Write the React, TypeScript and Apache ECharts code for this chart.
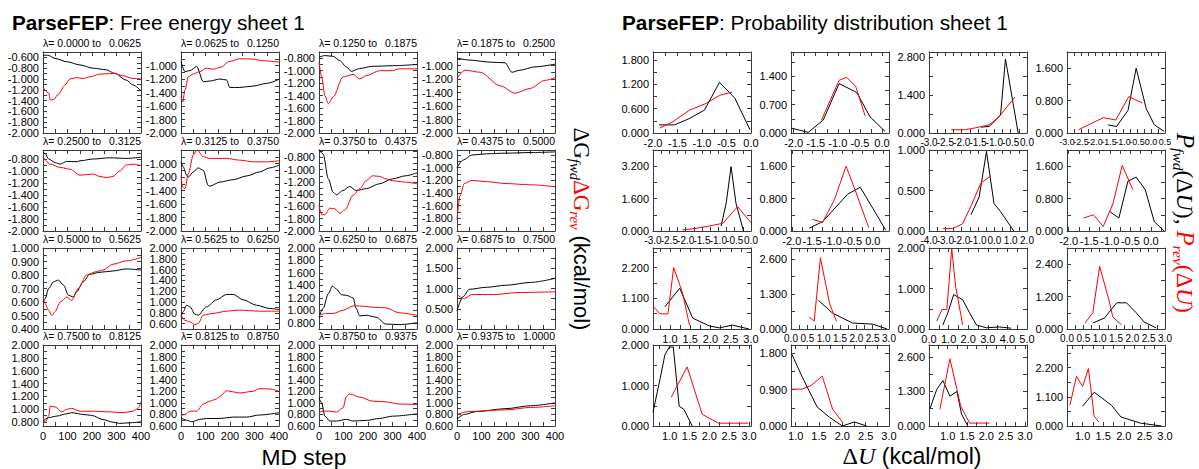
import React, { useEffect, useRef } from "react";
import * as echarts from "echarts";

// ---------- Free energy sheet (left) ----------
const lambdaFrom = ["0.0000","0.0625","0.1250","0.1875","0.2500","0.3125","0.3750","0.4375","0.5000","0.5625","0.6250","0.6875","0.7500","0.8125","0.8750","0.9375"];
const lambdaTo = ["0.0625","0.1250","0.1875","0.2500","0.3125","0.3750","0.4375","0.5000","0.5625","0.6250","0.6875","0.7500","0.8125","0.8750","0.9375","1.0000"];

const mdStepMin = 0;
const mdStepMax = 400;
const mdStepLabelStep = 100;

const feYMin = [-2, -2, -2, -2, -2, -2, -2, -2, 0.4, 0.5, 0.7, 0, 0.74, 0.6, 0.6, 0.6];
const feYMax = [-0.5, -0.8, -0.7, -0.8, -0.65, -0.8, -0.68, -0.72, 1.0, 2.0, 2.0, 2.0, 2.0, 2.0, 2.0, 2.0];
const feYTopLabel = [-0.6, -1.0, -0.8, -1.0, -0.8, -1.0, -0.8, -0.8, 1.0, 2.0, 2.0, 2.0, 2.0, 2.0, 2.0, 2.0];
const feYStep = [0.2, 0.2, 0.2, 0.2, 0.2, 0.2, 0.2, 0.2, 0.1, 0.2, 0.2, 0.5, 0.2, 0.2, 0.2, 0.2];

const feFwd: number[][][] = [
  [[0,-0.56],[20,-0.56],[50,-0.62],[97,-0.68],[151,-0.74],[205,-0.8],[259,-0.83],[292,-0.895],[340,-1.02],[367,-1.11],[400,-1.22]],
  [[0,-0.94],[16,-1.09],[37,-1.075],[64,-1.015],[91,-1.24],[118,-1.23],[159,-1.2],[186,-1.215],[199,-1.325],[240,-1.325],[294,-1.305],[349,-1.265],[400,-1.205]],
  [[0,-0.784],[24,-0.757],[58,-0.77],[85,-0.84],[112,-0.94],[132,-1.01],[166,-0.965],[219,-0.93],[300,-0.92],[400,-0.9]],
  [[0,-0.89],[53,-0.92],[135,-0.95],[196,-0.96],[224,-1.1],[257,-1.07],[318,-1.02],[400,-0.98]],
  [[0,-0.686],[9,-0.71],[23,-0.8],[50,-0.86],[70,-0.885],[97,-0.84],[137,-0.845],[151,-0.83],[205,-0.8],[272,-0.78],[340,-0.79],[400,-0.77]],
  [[0,-0.975],[9,-1.05],[23,-1.175],[30,-1.2],[50,-1.125],[70,-1.065],[91,-1.1],[111,-1.325],[118,-1.335],[159,-1.275],[213,-1.24],[267,-1.185],[321,-1.125],[362,-1.065],[400,-1.025]],
  [[0,-0.675],[17,-0.746],[38,-1.15],[58,-1.37],[71,-1.41],[98,-1.34],[125,-1.275],[152,-1.34],[193,-1.31],[247,-1.23],[300,-1.15],[354,-1.1],[400,-1.05]],
  [[0,-1.0],[25,-0.88],[60,-0.8],[120,-0.78],[200,-0.77],[300,-0.76],[400,-0.75]],
  [[0,0.6],[9,0.625],[23,0.7],[43,0.75],[63,0.762],[84,0.725],[104,0.65],[124,0.637],[137,0.675],[164,0.75],[191,0.805],[232,0.82],[286,0.83],[340,0.845],[400,0.837]],
  [[0,0.725],[9,0.82],[23,0.94],[37,0.91],[57,0.775],[70,0.756],[104,0.91],[145,1.04],[186,1.14],[213,1.14],[254,1.04],[308,0.94],[362,0.88],[400,0.86]],
  [[0,0.89],[17,1.03],[38,1.27],[55,1.39],[71,1.34],[92,1.25],[112,1.24],[139,1.2],[152,1.03],[166,0.91],[193,0.92],[233,0.89],[273,0.78],[327,0.77],[400,0.8]],
  [[0,0.45],[25,0.8],[50,0.98],[120,1.03],[200,1.08],[300,1.15],[400,1.25]],
  [[0,0.816],[23,0.87],[57,0.895],[97,0.93],[117,0.947],[164,0.92],[198,0.905],[245,0.84],[286,0.8],[313,0.78],[353,0.79],[400,0.805]],
  [[0,0.74],[23,0.7],[44,0.674],[77,0.714],[104,0.73],[159,0.73],[213,0.754],[267,0.754],[321,0.79],[400,0.83]],
  [[0,1.086],[11,1.0],[24,0.77],[44,0.686],[71,0.686],[112,0.714],[139,0.686],[193,0.697],[247,0.73],[300,0.77],[400,0.81]],
  [[0,0.72],[30,0.8],[80,0.85],[200,0.9],[300,0.95],[400,1.0]],
];

const feRev: number[][][] = [
  [[0,-1.16],[23,-1.26],[30,-1.39],[43,-1.38],[63,-1.28],[90,-1.11],[110,-1.0],[137,-0.975],[164,-0.99],[191,-0.96],[232,-0.91],[272,-0.9],[292,-0.895],[326,-0.94],[367,-0.99],[400,-1.0]],
  [[0,-1.465],[7,-1.54],[16,-1.365],[30,-1.165],[50,-1.125],[77,-1.09],[104,-1.04],[132,-1.055],[159,-1.03],[199,-0.94],[240,-0.9],[294,-0.905],[335,-0.93],[400,-0.95]],
  [[0,-0.86],[11,-1.1],[24,-1.4],[38,-1.53],[58,-1.42],[98,-1.1],[139,-1.06],[166,-1.13],[193,-1.08],[247,-1.0],[300,-1.0],[327,-0.97],[400,-0.97]],
  [[0,-1.19],[33,-1.07],[94,-1.1],[176,-1.3],[237,-1.41],[298,-1.34],[359,-1.22],[400,-1.18]],
  [[0,-0.77],[30,-0.886],[70,-0.94],[110,-0.97],[151,-1.07],[178,-1.06],[205,-1.05],[232,-1.09],[259,-1.11],[286,-1.09],[313,-1.0],[340,-0.9],[367,-0.886],[400,-0.91]],
  [[0,-1.175],[7,-1.35],[16,-1.375],[30,-1.15],[50,-0.875],[66,-0.8],[91,-0.9],[118,-0.925],[186,-0.925],[240,-0.95],[294,-0.975],[349,-0.975],[400,-0.96]],
  [[0,-1.58],[11,-1.735],[24,-1.735],[44,-1.627],[65,-1.64],[85,-1.71],[105,-1.66],[139,-1.42],[166,-1.31],[193,-1.18],[219,-1.1],[247,-1.11],[273,-1.15],[300,-1.18],[341,-1.2],[400,-1.23]],
  [[0,-1.82],[12,-1.45],[30,-1.25],[60,-1.2],[120,-1.22],[200,-1.25],[300,-1.27],[400,-1.3]],
  [[0,0.637],[9,0.587],[23,0.537],[36,0.5],[50,0.53],[70,0.6],[97,0.637],[117,0.612],[144,0.7],[178,0.8],[218,0.825],[245,0.837],[286,0.88],[340,0.905],[400,0.93]],
  [[0,0.756],[16,0.66],[37,0.63],[57,0.58],[70,0.6],[91,0.756],[132,0.79],[186,0.83],[240,0.85],[321,0.83],[400,0.83]],
  [[0,0.92],[31,0.95],[58,0.95],[98,1.0],[139,1.07],[166,1.07],[219,1.05],[273,1.04],[327,0.96],[400,0.92]],
  [[0,0.85],[30,0.75],[60,0.85],[150,0.85],[250,0.9],[400,0.92]],
  [[0,0.83],[9,0.8],[23,0.895],[30,1.05],[50,1.035],[77,0.96],[97,1.0],[117,1.015],[151,0.97],[205,0.97],[272,0.96],[326,0.947],[367,0.97],[387,1.01],[400,1.115]],
  [[0,0.78],[16,0.8],[37,0.857],[64,0.857],[91,0.98],[118,1.03],[139,1.057],[159,1.11],[186,1.21],[213,1.19],[240,1.17],[294,1.2],[321,1.245],[362,1.24],[400,1.2]],
  [[0,0.83],[17,0.857],[44,0.857],[71,0.84],[98,0.914],[112,1.114],[125,1.154],[166,1.1],[219,1.03],[273,1.017],[327,0.98],[400,0.97]],
  [[0,0.8],[50,0.85],[200,0.88],[300,0.92],[400,0.95]],
];

// ---------- Probability distribution sheet (right) ----------
const pdXMin = [-2.0, -2.06, -3.0, -3.0, -3.0, -2.02, -4.0, -2.04, 0.58, 0.0, 0.0, 0.0, 0.58, 0.9, 0.52, 0.62];
const pdXMax = [0.0, 0.16, 0.0, 0.5, 0.0, 0.4, 2.0, 0.34, 3.0, 3.0, 5.0, 3.0, 3.05, 3.0, 3.05, 3.0];
const pdXStep = [0.5, 0.5, 0.5, 0.5, 0.5, 0.5, 1.0, 0.5, 0.5, 0.5, 1.0, 0.5, 0.5, 0.5, 0.5, 0.5];
const pdYMax = [2.0, 2.0, 3.0, 2.0, 4.0, 2.0, 1.0, 2.0, 2.9, 3.0, 2.0, 3.0, 2.0, 2.0, 3.05, 3.05];
const pdYStep = [0.6, 0.7, 1.4, 0.8, 1.6, 0.8, 0.5, 0.8, 1.1, 1.3, 1.0, 1.2, 1.0, 0.9, 1.3, 1.1];

const pdFwd: number[][][] = [
  [[-1.88,0.2],[-1.56,0.2],[-1.27,0.35],[-0.95,0.565],[-0.644,1.25],[-0.33,0.86],[-0.02,0.08]],
  [[-2.05,0.12],[-1.67,0.016],[-1.33,0.32],[-0.97,1.22],[-0.57,1.0],[-0.27,0.4],[0.07,0.04]],
  [[-1.41,0.22],[-1.16,0.24],[-0.81,0.66],[-0.66,2.74],[-0.5,1.63],[-0.27,0.0]],
  [[-1.53,0.2],[-1.23,0.16],[-0.82,0.56],[-0.53,1.6],[-0.17,0.6],[0.12,0.2],[0.47,0.04]],
  [[-0.915,0.25],[-0.76,1.37],[-0.61,3.18],[-0.46,1.37],[-0.23,0.0]],
  [[-1.57,0.07],[-1.24,0.23],[-0.62,0.91],[-0.31,1.08],[0.0,0.56],[0.32,0.02]],
  [[-1.43,0.2],[-0.93,0.42],[-0.48,0.98],[-0.02,0.34],[0.38,0.24],[1.19,0.0]],
  [[-1.0,0.48],[-0.78,0.32],[-0.56,1.23],[-0.36,1.33],[-0.14,1.02],[0.08,0.23],[0.32,0.0]],
  [[0.87,0.79],[1.24,1.46],[1.56,0.39],[1.97,0.11],[2.22,0.04],[2.54,0.14],[2.95,0.0]],
  [[0.84,1.06],[1.27,0.59],[1.58,0.4],[1.89,0.22],[2.5,0.18],[2.94,0.0]],
  [[0.71,0.1],[0.96,0.4],[1.26,0.85],[1.72,0.72],[2.07,0.4],[2.42,0.1],[2.93,0.03],[3.59,0.05],[4.19,0.02]],
  [[0.79,0.22],[1.15,0.41],[1.52,0.97],[1.82,0.97],[2.12,0.6],[2.36,0.26],[2.73,0.04]],
  [[0.58,0.34],[0.76,1.17],[0.88,1.76],[0.99,1.95],[1.09,1.95],[1.24,0.49],[1.36,0.41],[1.57,0.0]],
  [[0.92,1.77],[1.14,1.21],[1.46,0.47],[1.72,0.22],[2.0,0.0],[2.26,0.1],[2.52,0.0]],
  [[0.55,0.67],[0.72,1.38],[0.88,1.71],[1.06,1.12],[1.24,1.3],[1.36,0.45],[1.52,0.0]],
  [[1.0,0.75],[1.28,1.27],[1.7,0.78],[1.93,0.34],[2.4,0.11],[2.92,0.0]],
];

const pdRev: number[][][] = [
  [[-1.864,0.12],[-1.59,0.28],[-1.254,0.565],[-0.915,0.73],[-0.644,0.93],[-0.386,1.01]],
  [[-1.37,0.32],[-0.97,1.3],[-0.8,1.38],[-0.59,1.14],[-0.38,0.42]],
  [[-2.32,0.12],[-1.92,0.12],[-1.62,0.18],[-1.16,0.3],[-0.86,0.6],[-0.37,1.33]],
  [[-2.59,0.08],[-1.7,0.38],[-1.26,0.32],[-0.79,0.9],[-0.31,0.74]],
  [[-2.1,0.05],[-1.68,0.13],[-1.27,0.25],[-0.86,0.38],[-0.41,1.2],[0.0,0.41]],
  [[-1.49,0.29],[-1.24,0.21],[-0.95,0.77],[-0.66,1.6],[-0.41,0.94],[-0.1,0.08]],
  [[-3.15,0.03],[-2.55,0.03],[-1.94,0.09],[-1.4,0.32],[-0.83,0.59],[-0.22,0.68]],
  [[-1.64,0.32],[-1.4,0.4],[-1.16,0.11],[-0.92,0.69],[-0.7,1.62],[-0.44,1.02]],
  [[0.58,0.82],[0.75,0.54],[0.95,0.54],[1.09,2.2],[1.31,1.29],[1.48,0.14]],
  [[0.56,0.44],[0.71,0.29],[0.9,2.64],[1.18,0.95],[1.39,0.29]],
  [[0.4,0.2],[0.66,0.48],[0.91,0.48],[1.16,1.98],[1.36,1.05],[1.72,0.1]],
  [[0.55,0.22],[0.79,0.6],[1.0,2.32],[1.3,1.0],[1.4,0.45],[1.67,0.15]],
  [[1.04,0.71],[1.44,1.46],[1.82,0.29],[2.23,0.07],[2.98,0.07]],
  [[0.92,0.91],[1.14,0.91],[1.33,1.0],[1.57,1.23],[1.79,0.42],[2.0,0.1]],
  [[0.8,0.63],[1.06,2.53],[1.24,1.38],[1.34,0.74],[1.57,0.11],[2.08,0.11]],
  [[0.69,0.78],[0.85,1.87],[1.0,1.49],[1.14,2.16],[1.28,0.37],[1.39,0.15]],
];

// ---------- helpers ----------
const SANS = "'Liberation Sans', Arial, Helvetica, sans-serif";
const SERIF = "'Liberation Serif', 'Times New Roman', serif";
const AXIS_COLOR = "#3a3a3a";
const RED = "#ff0000";

let measureCtx: CanvasRenderingContext2D | null = null;
function measure(text: string, font: string): number {
  if (!measureCtx) measureCtx = document.createElement("canvas").getContext("2d");
  if (!measureCtx) return text.length * 10;
  measureCtx.font = font;
  return measureCtx.measureText(text).width;
}

function multiples(min: number, max: number, step: number): number[] {
  const out: number[] = [];
  const start = Math.ceil(min / step - 1e-6);
  for (let k = start; k * step <= max + 1e-6; k++) out.push(Number((k * step).toFixed(6)));
  return out;
}

// ECharts hides the label next to the min/max label when they overlap; pad the
// label list with blank placeholders next to both ends so that no real label is dropped.
function padLabels(vals: number[], step: number): number[] {
  if (vals.length < 2) return vals;
  const e = step * 0.013;
  return [vals[0], vals[0] + e, ...vals.slice(1, -1), vals[vals.length - 1] - e, vals[vals.length - 1]];
}
function padTicks(vals: number[]): number[] {
  if (vals.length < 2) return vals;
  return [vals[0], vals[0], ...vals.slice(1, -1), vals[vals.length - 1], vals[vals.length - 1]];
}
const labelFmt = (step: number, dec: number) => (v: number) =>
  Math.abs(v / step - Math.round(v / step)) > 1e-4 ? "" : v.toFixed(dec);

type Piece = { t: string; size: number; fam: string; italic?: boolean; bold?: boolean; color: string; sub?: boolean };
const fontOf = (p: Piece, s: number) =>
  `${p.italic ? "italic " : ""}${p.bold ? "bold " : ""}${(p.size * s).toFixed(2)}px ${p.fam}`;

// Lay out a run of text pieces, scaled so the whole run has length `len`, centered at (cx, cy).
function runText(pieces: Piece[], cx: number, cy: number, len: number, vertical: boolean, out: any[]) {
  const base = pieces.reduce((a, p) => a + measure(p.t, fontOf(p, 1)), 0);
  const s = len / base;
  let pos = -len / 2;
  for (const p of pieces) {
    const f = fontOf(p, s);
    const w = measure(p.t, f);
    const off = p.sub ? 6 * s : 0;
    const el: any = {
      type: "text", silent: true,
      style: { text: p.t, font: f, fill: p.color, align: "left", verticalAlign: "middle" },
    };
    if (vertical) {
      el.x = cx - off;
      el.y = cy + pos;
      el.rotation = -Math.PI / 2;
    } else {
      el.x = cx + pos;
      el.y = cy + off;
    }
    out.push(el);
    pos += w;
  }
}

function buildOption() {
  const grid: any[] = [];
  const xAxis: any[] = [];
  const yAxis: any[] = [];
  const series: any[] = [];
  const graphic: any[] = [];

  const W = 98;
  const H = 81;
  const rowTops = [52, 150, 248, 345];

  function panel(
    left: number, top: number,
    xMin: number, xMax: number, xStep: number, xLabelMax: number, showXLabels: boolean, xDec: number, xFont: number,
    yMin: number, yMax: number, yStep: number, yLabelMax: number,
    fwd: number[][], rev: number[][], smooth: boolean
  ) {
    const g = grid.length;
    grid.push({ left, top, width: W, height: H, containLabel: false });
    const line = { show: true, onZero: false, lineStyle: { color: AXIS_COLOR, width: 1 } };
    const xTicks = padTicks(multiples(xMin, xMax, xStep / 2));
    const yTicks = padTicks(multiples(yMin, yMax, yStep / 2));
    const xLabels = padLabels(multiples(xMin, xLabelMax, xStep), xStep);
    const yLabels = padLabels(multiples(yMin, yLabelMax, yStep), yStep);
    const tick = (vals: number[]) => ({ show: true, inside: true, length: 4, customValues: vals, lineStyle: { color: AXIS_COLOR, width: 1 } });
    const xi = xAxis.length;
    xAxis.push({
      type: "value", gridIndex: g, position: "bottom", min: xMin, max: xMax,
      axisLine: line, axisTick: tick(xTicks), splitLine: { show: false },
      axisLabel: {
        show: showXLabels, customValues: xLabels, hideOverlap: false, showMinLabel: true, showMaxLabel: true,
        formatter: labelFmt(xStep, xDec),
        fontSize: xFont, fontFamily: SANS, color: "#000", margin: 4,
      },
    });
    xAxis.push({
      type: "value", gridIndex: g, position: "top", min: xMin, max: xMax,
      axisLine: line, axisTick: tick(xTicks), axisLabel: { show: false }, splitLine: { show: false },
    });
    const yi = yAxis.length;
    yAxis.push({
      type: "value", gridIndex: g, position: "left", min: yMin, max: yMax,
      axisLine: line, axisTick: tick(yTicks), splitLine: { show: false },
      axisLabel: {
        show: true, customValues: yLabels, hideOverlap: false, showMinLabel: true, showMaxLabel: true,
        formatter: labelFmt(yStep, 3),
        fontSize: 11, lineHeight: 9, fontFamily: SANS, color: "#000", margin: 4,
      },
    });
    yAxis.push({
      type: "value", gridIndex: g, position: "right", min: yMin, max: yMax,
      axisLine: line, axisTick: tick(yTicks), axisLabel: { show: false }, splitLine: { show: false },
    });
    const mk = (data: number[][], color: string) => ({
      type: "line", xAxisIndex: xi, yAxisIndex: yi, data,
      symbol: "none", showSymbol: false, silent: true, clip: true,
      smooth: smooth ? 0.3 : false, smoothMonotone: smooth ? "x" : undefined,
      lineStyle: { color, width: 1 }, itemStyle: { color },
    });
    series.push(mk(fwd, "#000000"));
    series.push(mk(rev, RED));
  }

  // left sheet
  for (let i = 0; i < 16; i++) {
    const r = Math.floor(i / 4);
    const c = i % 4;
    const left = 43 + 138 * c;
    const top = rowTops[r];
    panel(
      left, top,
      mdStepMin, mdStepMax, mdStepLabelStep, mdStepMax, r === 3, 0, 11,
      feYMin[i], feYMax[i], feYStep[i], feYTopLabel[i],
      feFwd[i], feRev[i], true
    );
    graphic.push({ type: "text", x: left, y: top - 9, silent: true,
      style: { text: "λ= " + lambdaFrom[i] + " to", align: "left", verticalAlign: "middle", font: "10.5px " + SANS, fill: "#000" } });
    graphic.push({ type: "text", x: left + W, y: top - 9, silent: true,
      style: { text: lambdaTo[i], align: "right", verticalAlign: "middle", font: "10.5px " + SANS, fill: "#000" } });
  }

  // right sheet
  for (let i = 0; i < 16; i++) {
    const r = Math.floor(i / 4);
    const c = i % 4;
    const left = 653 + 138 * c;
    const top = rowTops[r];
    const spacing = W / ((pdXMax[i] - pdXMin[i]) / pdXStep[i]);
    const xFont = spacing < 15 ? 9 : spacing < 17 ? 10 : 11;
    panel(
      left, top,
      pdXMin[i], pdXMax[i], pdXStep[i], pdXMax[i], true, 1, xFont,
      0, pdYMax[i], pdYStep[i], pdYMax[i],
      pdFwd[i], pdRev[i], false
    );
  }

  // titles
  runText([
    { t: "ParseFEP", size: 20, fam: SANS, bold: true, color: "#000" },
    { t: ": Free energy sheet 1", size: 20, fam: SANS, color: "#000" },
  ], 12 + 293 / 2, 22, 293, false, graphic);
  runText([
    { t: "ParseFEP", size: 20, fam: SANS, bold: true, color: "#000" },
    { t: ": Probability distribution sheet 1", size: 20, fam: SANS, color: "#000" },
  ], 622 + 386 / 2, 22, 386, false, graphic);

  // bottom axis names
  runText([{ t: "MD step", size: 22, fam: SANS, color: "#000" }], 304, 457, 85, false, graphic);
  runText([
    { t: "Δ", size: 23, fam: SERIF, color: "#000" },
    { t: "U", size: 23, fam: SERIF, italic: true, color: "#000" },
    { t: " (kcal/mol)", size: 22, fam: SANS, color: "#000" },
  ], 912, 456, 139, false, graphic);

  // vertical axis names
  runText([
    { t: "ΔG", size: 22, fam: SERIF, color: "#000" },
    { t: "fwd", size: 14, fam: SERIF, italic: true, color: "#000", sub: true },
    { t: "ΔG", size: 22, fam: SERIF, color: RED },
    { t: "rev", size: 14, fam: SERIF, italic: true, color: RED, sub: true },
    { t: " (kcal/mol)", size: 21, fam: SANS, color: "#000" },
  ], 581, 229, 203, true, graphic);
  runText([
    { t: "P", size: 24, fam: SERIF, italic: true, color: "#000" },
    { t: "fwd", size: 15, fam: SERIF, italic: true, color: "#000", sub: true },
    { t: "(Δ", size: 23, fam: SERIF, color: "#000" },
    { t: "U", size: 23, fam: SERIF, italic: true, color: "#000" },
    { t: "), ", size: 23, fam: SERIF, color: "#000" },
    { t: "P", size: 24, fam: SERIF, italic: true, color: RED },
    { t: "rev", size: 15, fam: SERIF, italic: true, color: RED, sub: true },
    { t: "(Δ", size: 23, fam: SERIF, color: RED },
    { t: "U", size: 23, fam: SERIF, italic: true, color: RED },
    { t: ")", size: 23, fam: SERIF, color: RED },
  ], 1185, 223, 180, true, graphic);

  return {
    animation: false,
    backgroundColor: "#ffffff",
    grid, xAxis, yAxis, series, graphic,
  };
}

export default function App() {
  const ref = useRef<HTMLDivElement>(null);
  useEffect(() => {
    if (!ref.current) return;
    const chart = echarts.init(ref.current, undefined, { renderer: "svg" });
    chart.setOption(buildOption() as any);
    return () => chart.dispose();
  }, []);
  return (
    <div
      ref={ref}
      style={{ position: "absolute", left: 0, top: 0, width: 1199, height: 469, background: "#fff" }}
    />
  );
}
